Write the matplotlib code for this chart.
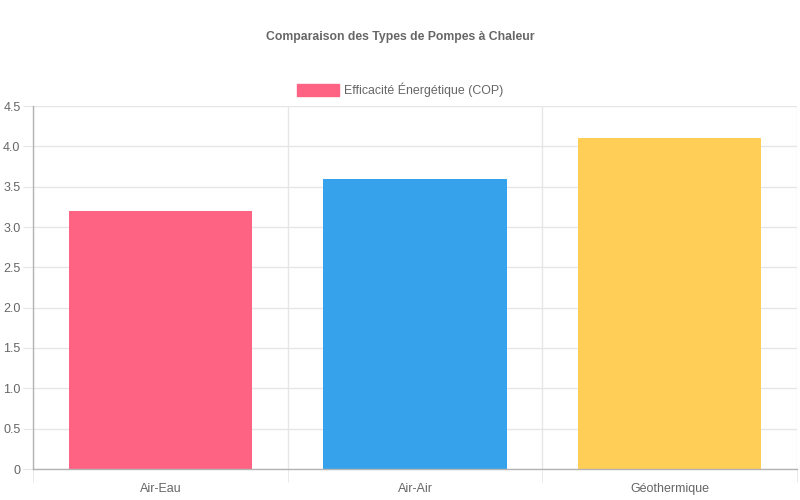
import matplotlib
matplotlib.use("Agg")
import matplotlib.pyplot as plt
from matplotlib.patches import Patch

plt.rcParams['font.family'] = ['Liberation Sans', 'DejaVu Sans']

# Données
categories = ["Air-Eau", "Air-Air", "Géothermique"]
cop = [3.2, 3.6, 4.1]
couleurs = ["#FF6384", "#36A2EB", "#FFCE56"]
label_serie = "Efficacité Énergétique (COP)"
titre = "Comparaison des Types de Pompes à Chaleur"
yticks = [0, 0.5, 1.0, 1.5, 2.0, 2.5, 3.0, 3.5, 4.0, 4.5]

gris_texte = "#666666"
gris_grille = "#e6e6e6"
gris_axe = "#b3b3b3"

fig = plt.figure(figsize=(8, 5), dpi=100)
ax = fig.add_axes([33/800, 31/500, 764/800, 363/500])

x = range(len(categories))
ax.bar(x, cop, width=0.72, color=couleurs, zorder=3)

ax.set_xlim(-0.5, len(categories) - 0.5)
ax.set_ylim(0, 4.5)

# axe y
ax.set_yticks(yticks)
ax.set_yticklabels(["0" if v == 0 else f"{v:.1f}" for v in yticks])
ax.yaxis.grid(True, color=gris_grille, linewidth=1, zorder=0)
ax.tick_params(axis="y", length=7, color=gris_grille, labelsize=9,
               labelcolor=gris_texte, pad=2)

# axe x
ax.set_xticks(list(x))
ax.set_xticklabels(categories)
ax.tick_params(axis="x", which="major", length=0, labelsize=9,
               labelcolor=gris_texte, pad=10)
ax.set_xticks([i - 0.5 for i in range(len(categories) + 1)], minor=True)
ax.xaxis.grid(True, which="minor", color=gris_grille, linewidth=1, zorder=0)
ax.tick_params(axis="x", which="minor", length=9, color=gris_grille)

for s in ["top", "right"]:
    ax.spines[s].set_visible(False)
for s in ["left", "bottom"]:
    ax.spines[s].set_color(gris_axe)
    ax.spines[s].set_linewidth(1)
    ax.spines[s].set_zorder(4)

fig.text(0.5, 1 - 37/500, titre, ha="center", va="center",
         fontsize=8.8, fontweight="bold", color=gris_texte)

handle = Patch(facecolor=couleurs[0], edgecolor=couleurs[0])
fig.legend([handle], [label_serie], loc="center", bbox_to_anchor=(0.5, 1 - 90/500),
           frameon=False, fontsize=8.9, labelcolor=gris_texte,
           handlelength=3.4, handleheight=1.0, handletextpad=0.45)

fig.savefig("out.png", dpi=100)
